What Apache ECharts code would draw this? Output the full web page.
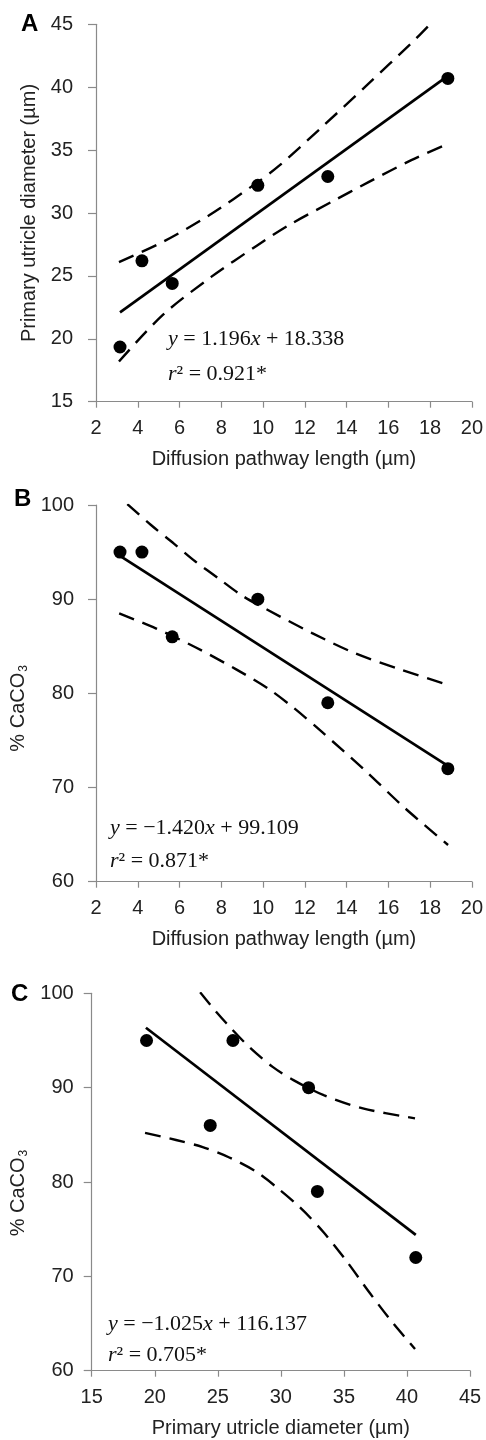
<!DOCTYPE html>
<html>
<head>
<meta charset="utf-8">
<script src="https://cdn.jsdelivr.net/npm/echarts@6/dist/echarts.min.js"></script>
<style>
html,body{margin:0;padding:0;background:#fff;}
#chart{width:486px;height:1440px;}
</style>
</head>
<body>
<div id="chart"></div>
<script>
// ---- data ----
const diffusionLength = [3.15, 4.2, 5.65, 9.75, 13.1, 18.85];
const utricleDiameter = [19.35, 26.2, 24.4, 32.2, 32.9, 40.7];
const caco3 = [95, 95, 86, 90, 79, 72];

// fitted regression lines (end points)
const fitA = [[3.15, 22.1], [18.85, 40.9]];
const fitB = [[3.15, 94.6], [18.85, 72.3]];
const fitC = [[19.3, 96.35], [40.7, 74.4]];

// confidence bands
const upperA = [[3.1,26.1],[5.2,27.7],[7.4,29.8],[9.7,32.4],[10.8,33.8],[12.8,36.8],[15.0,40.2],[17.1,43.5],[18.0,45.0]];
const lowerA = [[3.1,18.2],[5.2,21.9],[7.5,24.9],[9.7,27.4],[11.2,29.0],[13.3,30.9],[15.05,32.45],[17.1,34.2],[18.86,35.5]];
const upperB = [[3.5,100.1],[4.62,97.9],[5.73,95.9],[6.76,94.0],[7.87,92.2],[8.98,90.4],[10.1,89.0],[12.35,86.4],[14.41,84.25],[16.63,82.5],[18.86,80.9]];
const lowerB = [[3.11,88.5],[4.86,86.9],[6.76,84.9],[8.67,82.6],[10.25,80.5],[11.5,78.4],[12.82,75.9],[14.89,71.8],[16.8,67.8],[18.86,63.9]];
const upperC = [[23.6,100.1],[24.7,98.3],[25.7,96.8],[27.5,94.3],[29.35,92.2],[31.0,90.8],[33.4,89.2],[36.5,87.8],[40.64,86.75]];
const lowerC = [[19.23,85.2],[21.69,84.45],[23.8,83.7],[25.91,82.6],[28.03,81.1],[29.7,79.4],[31.52,77.3],[33.37,74.7],[35.22,71.6],[37.07,68.2],[38.92,65.0],[40.64,62.3]];

// axis ranges / ticks
const xTicksAB = {min: 2, max: 20, interval: 2};
const yTicksA = {min: 15, max: 45, interval: 5};
const yTicksBC = {min: 60, max: 100, interval: 10};
const xTicksC = {min: 15, max: 45, interval: 5};

// texts
const xNameAB = 'Diffusion pathway length (\u00b5m)';
const xNameC = 'Primary utricle diameter (\u00b5m)';
const yNameA = 'Primary utricle diameter (\u00b5m)';
const yNameBC = '% CaCO{sub|3}';
const eqA = ['{i|y} = 1.196{i|x} + 18.338', '{i|r}\u00b2 = 0.921*'];
const eqB = ['{i|y} = \u22121.420{i|x} + 99.109', '{i|r}\u00b2 = 0.871*'];
const eqC = ['{i|y} = \u22121.025{i|x} + 116.137', '{i|r}\u00b2 = 0.705*'];
const panelLabels = ['A', 'B', 'C'];

// ---- chart ----
const SANS = 'Liberation Sans, Arial, sans-serif';
const SERIF = 'Liberation Serif, Times New Roman, serif';
const AXIS_COLOR = '#8a8a8a';
const TEXT_COLOR = '#222';

function pairs(xs, ys) { return xs.map((x, i) => [x, ys[i]]); }

function xAxis(idx, t, name, margin) {
  return {
    type: 'value', gridIndex: idx, min: t.min, max: t.max, interval: t.interval,
    name: name, nameLocation: 'middle', nameGap: 48,
    nameTextStyle: {fontFamily: SANS, fontSize: 20, color: TEXT_COLOR},
    axisLine: {show: true, lineStyle: {color: AXIS_COLOR, width: 1.2}},
    axisTick: {show: true, inside: false, length: 6, lineStyle: {color: AXIS_COLOR, width: 1.2}},
    axisLabel: {fontFamily: SANS, fontSize: 20, color: TEXT_COLOR, margin: margin},
    splitLine: {show: false}
  };
}
function yAxis(idx, t, name, gap, margin, pad) {
  return {
    type: 'value', gridIndex: idx, min: t.min, max: t.max, interval: t.interval,
    name: name, nameLocation: 'middle', nameGap: gap, nameRotate: 90,
    nameTextStyle: {fontFamily: SANS, fontSize: 20, color: TEXT_COLOR, padding: pad,
      rich: {sub: {fontFamily: SANS, fontSize: 12, color: TEXT_COLOR, verticalAlign: 'bottom', padding: [10, 0, 0, 1]}}},
    axisLine: {show: true, lineStyle: {color: AXIS_COLOR, width: 1.2}},
    axisTick: {show: true, inside: false, length: 8, lineStyle: {color: AXIS_COLOR, width: 1.2}},
    axisLabel: {fontFamily: SANS, fontSize: 20, color: TEXT_COLOR, margin: margin},
    splitLine: {show: false}
  };
}

function scatter(idx, data) {
  return {type: 'scatter', xAxisIndex: idx, yAxisIndex: idx, data: data, symbol: 'circle', symbolSize: 13,
    itemStyle: {color: '#000', opacity: 1}, z: 5, silent: true};
}
function fit(idx, data) {
  return {type: 'line', xAxisIndex: idx, yAxisIndex: idx, data: data, showSymbol: false, symbol: 'none',
    lineStyle: {color: '#000', width: 2.7}, z: 3, silent: true};
}
function band(idx, data) {
  return {type: 'line', xAxisIndex: idx, yAxisIndex: idx, data: data, showSymbol: false, symbol: 'none',
    smooth: 0.3,
    lineStyle: {color: '#000', width: 2.4, type: [16, 9]}, z: 3, silent: true};
}

function eqText(lines, x, y1, y2) {
  const rich = {i: {fontFamily: SERIF, fontStyle: 'italic', fontSize: 22, fill: '#111'}};
  return [
    {type: 'text', left: x, top: y1 - 12, style: {text: lines[0], fontFamily: SERIF, fontSize: 22, fill: '#111', rich: rich}},
    {type: 'text', left: x, top: y2 - 12, style: {text: lines[1], fontFamily: SERIF, fontSize: 22, fill: '#111', rich: rich}}
  ];
}
function letter(t, x, y) {
  return {type: 'text', left: x, top: y, style: {text: t, fontFamily: SANS, fontWeight: 'bold', fontSize: 24, fill: '#000'}};
}

const chart = echarts.init(document.getElementById('chart'), null, {renderer: 'canvas'});
chart.setOption({
  animation: false,
  backgroundColor: '#fff',
  grid: [
    {left: 96, top: 24.3, width: 378, height: 377.4},
    {left: 96, top: 505, width: 378, height: 376.7},
    {left: 91.7, top: 993.3, width: 378.3, height: 377.4}
  ],
  xAxis: [
    xAxis(0, xTicksAB, xNameAB, 17),
    xAxis(1, xTicksAB, xNameAB, 17),
    xAxis(2, xTicksC, xNameC, 17)
  ],
  yAxis: [
    yAxis(0, yTicksA, yNameA, 55, 23, [0, 0, 0, 0]),
    yAxis(1, yTicksBC, yNameBC, 60, 22, [0, 30, 0, 0]),
    yAxis(2, yTicksBC, yNameBC, 54, 18, [0, 22, 0, 0])
  ],
  series: [
    band(0, upperA), band(0, lowerA), fit(0, fitA), scatter(0, pairs(diffusionLength, utricleDiameter)),
    band(1, upperB), band(1, lowerB), fit(1, fitB), scatter(1, pairs(diffusionLength, caco3)),
    band(2, upperC), band(2, lowerC), fit(2, fitC), scatter(2, pairs(utricleDiameter, caco3))
  ],
  graphic: [
    letter(panelLabels[0], 21, 12),
    letter(panelLabels[1], 14, 487),
    letter(panelLabels[2], 11, 982),
    ...eqText(eqA, 168, 340, 375),
    ...eqText(eqB, 110, 829, 862),
    ...eqText(eqC, 108, 1325, 1356)
  ]
});
</script>
</body>
</html>
